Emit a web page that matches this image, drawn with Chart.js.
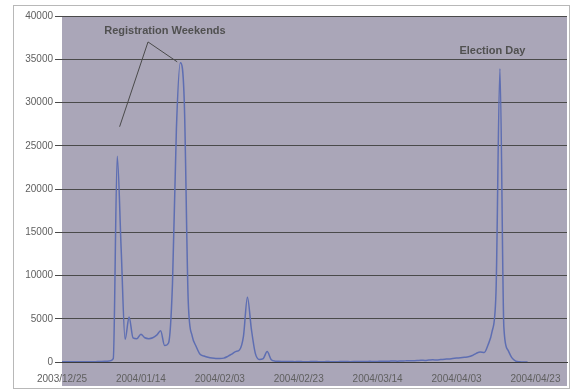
<!DOCTYPE html>
<html>
<head>
<meta charset="utf-8">
<script src="https://cdn.jsdelivr.net/npm/chart.js@4"></script>
<style>
  html, body { margin: 0; padding: 0; background: #fff; }
  #wrap { width: 573px; height: 392px; }
</style>
</head>
<body>
<div id="wrap"><canvas id="chart"></canvas></div>
<script>
// daily counts, day 0 = 2003/12/25
const counts = [
  20, 30, 20, 40, 30, 20, 30, 40, 30, 50,
  60, 80, 120, 400, 23800, 13000, 2600, 5200, 2800, 2700,
  3200, 2800, 2700, 2800, 3100, 3600, 1900, 2200, 9000, 27000,
  34600, 30000, 7000, 3000, 1800, 900, 700, 550, 450, 400,
  400, 450, 650, 900, 1200, 1400, 3000, 7500, 3800, 1000,
  300, 400, 1200, 300, 100, 80, 60, 50, 60, 40,
  50, 40, 30, 50, 60, 40, 30, 50, 40, 30,
  40, 50, 60, 40, 50, 70, 60, 50, 80, 60,
  70, 90, 80, 100, 120, 90, 110, 130, 150, 140,
  160, 200, 180, 220, 250, 230, 280, 320, 350, 400,
  450, 500, 550, 600, 750, 1000, 1150, 1100, 2000, 3500,
  8000, 33900, 4000, 1400, 500, 100, 20, 0, 0
];

const xTickDays = [0, 20, 40, 60, 80, 100, 120];
const xTickLabels = ["2003/12/25", "2004/01/14", "2004/02/03", "2004/02/23", "2004/03/14", "2004/04/03", "2004/04/23"];

// callouts, in data units (day, count)
const regLabel = { text: "Registration Weekends", day: 26.1, value: 38300 };
const regApex = { day: 21.8, value: 37000 };
const regTargets = [{ day: 14.6, value: 27200 }, { day: 29.2, value: 34700 }];
const electionLabel = { text: "Election Day", day: 109.1, value: 35950 };

const points = counts.map((v, i) => ({ x: i, y: v }));

const decor = {
  id: "decor",
  beforeDraw(chart) {
    const { ctx, chartArea: a } = chart;
    ctx.save();
    ctx.fillStyle = "#fff";
    ctx.fillRect(0, 0, chart.width, chart.height);
    ctx.fillStyle = "#aaa6b8";
    ctx.fillRect(a.left, a.top, a.right - a.left, chart.height - 6 - a.top);
    ctx.strokeStyle = "#b8b8b8";
    ctx.lineWidth = 1;
    ctx.strokeRect(13.5, 5.5, chart.width - 17, chart.height - 9);
    ctx.restore();
  },
  afterDatasetsDraw(chart) {
    const { ctx } = chart;
    const x = chart.scales.x, y = chart.scales.y;
    const px = (p) => [x.getPixelForValue(p.day), y.getPixelForValue(p.value)];
    ctx.save();
    ctx.strokeStyle = "#4a4a4a";
    ctx.lineWidth = 1;
    const [ax, ay] = px(regApex);
    regTargets.forEach((t) => {
      const [tx, ty] = px(t);
      ctx.beginPath();
      ctx.moveTo(ax, ay);
      ctx.lineTo(tx, ty);
      ctx.stroke();
    });
    ctx.fillStyle = "#505050";
    ctx.font = "bold 11px Arial, 'Liberation Sans', sans-serif";
    ctx.textAlign = "center";
    ctx.textBaseline = "middle";
    [regLabel, electionLabel].forEach((l) => {
      const [lx, ly] = px(l);
      ctx.fillText(l.text, lx, ly);
    });
    ctx.restore();
  }
};

new Chart(document.getElementById("chart"), {
  type: "line",
  data: {
    datasets: [{
      data: points,
      borderColor: "#5e6eb2",
      borderWidth: 1.5,
      pointRadius: 0,
      cubicInterpolationMode: "monotone",
      fill: false
    }]
  },
  options: {
    responsive: true,
    maintainAspectRatio: false,
    animation: false,
    layout: { padding: { left: 0, right: 6, top: 16, bottom: 4 } },
    plugins: { legend: { display: false }, tooltip: { enabled: false } },
    scales: {
      x: {
        type: "linear",
        min: 0,
        max: 128,
        afterBuildTicks: (s) => { s.ticks = xTickDays.map((v) => ({ value: v })); },
        afterFit: (s) => { s.height = 26; },
        grid: { display: false, drawTicks: false },
        border: { display: true, color: "#3c3c3c", width: 1 },
        ticks: {
          padding: 11,
          maxRotation: 0,
          autoSkip: false,
          color: "#606060",
          font: { family: "Arial, 'Liberation Sans', sans-serif", size: 10 },
          callback: (v) => xTickLabels[xTickDays.indexOf(v)]
        }
      },
      y: {
        min: 0,
        max: 40000,
        afterFit: (s) => { s.width = 62; },
        grid: { color: "#4a4a4a", lineWidth: 1, tickLength: 7 },
        border: { display: false },
        ticks: {
          stepSize: 5000,
          padding: 2,
          color: "#606060",
          font: { family: "Arial, 'Liberation Sans', sans-serif", size: 10 },
          callback: (v) => String(v)
        }
      }
    }
  },
  plugins: [decor]
});
</script>
</body>
</html>
